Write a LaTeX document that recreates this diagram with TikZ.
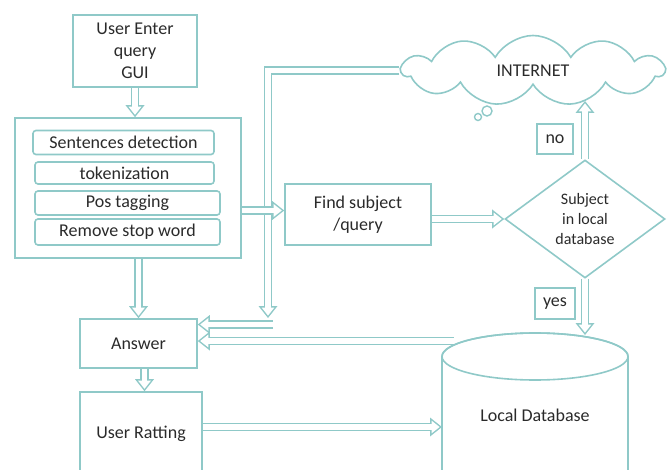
\documentclass[tikz,border=0pt]{standalone}
\usepackage{fontspec}
\setmainfont{Carlito}
\usetikzlibrary{shapes.geometric,shapes.symbols,arrows.meta,calc}

\definecolor{flowline}{HTML}{8FC9C8}
\definecolor{ink}{HTML}{2A2A2A}

\begin{document}
\begin{tikzpicture}[x=1pt, y=1pt,
    box/.style={draw=flowline, line width=1.6pt, text=ink, align=center, inner sep=2pt,
        font=\fontsize{18}{22}\selectfont},
    subbox/.style={box, rounded corners=3pt, minimum height=24pt},
    % hollow block arrow: teal body, white core
    flow/.style={draw=flowline, line width=8.5pt, -{Triangle[length=12pt, width=19pt, line width=0pt]},
        postaction={draw=white, line width=5.5pt, shorten >=2.4pt,
            -{Triangle[length=8.1pt, width=12.8pt, line width=0pt]}}}]
    \useasboundingbox (0,0) rectangle (671,469);
    \clip (0,0) rectangle (671,469);

    % left column
    \node[box, minimum width=124pt, minimum height=72pt] (userq) at (135,418) {User Enter\\query\\GUI};
    \node[box, minimum width=226pt, minimum height=140pt] (nlp) at (128,281) {};
    \node[subbox, minimum width=181pt] (sent) at (123.5,326.5) {Sentences detection};
    \node[subbox, minimum width=179pt, minimum height=22pt] (token) at (124.5,296) {tokenization};
    \node[subbox, minimum width=185pt] (pos) at (127.5,266) {Pos tagging};
    \node[subbox, minimum width=185pt, minimum height=26pt] (stopw) at (127.5,237) {Remove stop word};
    \node[box, minimum width=117pt, minimum height=49pt] (answer) at (138.5,125.5) {Answer};
    \node[box, minimum width=122pt, minimum height=83pt] (rating) at (141,35.5) {User Ratting};

    % right part
    \node[box, minimum width=146pt, minimum height=61pt] (findq) at (358,254.5) {Find subject\\/query};
    \node[box, diamond, inner sep=0pt, minimum width=160pt, minimum height=118pt,
        font=\fontsize{16}{20}\selectfont] (check) at (585,250) {Subject\\in local\\database};
    \node[box, cloud, cloud puffs=11, cloud puff arc=120, aspect=3.4, minimum width=262pt,
        minimum height=70pt] (net) at (533,398.5) {INTERNET};
    \draw[flowline, line width=1.4pt] (487,358) circle (5pt) (478,352) circle (3.5pt);
    \node[box, minimum width=36pt, minimum height=30pt] (no) at (555,330) {no};
    \node[box, minimum width=40pt, minimum height=31pt] (yes) at (555,165.5) {yes};

    % local database
    \draw[flowline, line width=1.6pt] (442,-20) -- (442,112.5)
        arc[start angle=180, end angle=0, x radius=93pt, y radius=23.5pt] -- (628,-20);
    \draw[flowline, line width=1.6pt] (535,112.5) ellipse [x radius=93pt, y radius=23.5pt];
    \node[text=ink, font=\fontsize{18}{22}\selectfont] (db) at (535,54) {Local Database};

    \coordinate (dbtop) at (585,134);
    \coordinate (dbout) at (454,128);
    \coordinate (dbwest) at (442,42);
    \coordinate (netin) at (585,368);
    \coordinate (down) at (268,151);
    \coordinate (joint) at (273,144.5);

    % connectors
    \draw[flow] (userq.south) -- (userq.south |- nlp.north);
    \draw[flow] (net.west) -| (down);
    \draw[flow] (joint) -- (joint -| answer.east);
    \draw[flow] ([yshift=-22.5pt]nlp.east) -- ([yshift=-22.5pt]nlp.east -| findq.west);
    \draw[flow] (findq.east |- check) -- (check.west);
    \draw[flow] (check.north) -- (netin);
    \draw[flow] (check.south) -- (dbtop);
    \draw[flow] (nlp.south -| answer.north) -- (answer.north);
    \draw[flow] (dbout) -- (dbout -| answer.east);
    \draw[flow] ([xshift=6pt]answer.south) -- ([xshift=6pt]answer.south |- rating.north);
    \draw[flow] (rating.east |- dbwest) -- (dbwest);
\end{tikzpicture}
\end{document}
